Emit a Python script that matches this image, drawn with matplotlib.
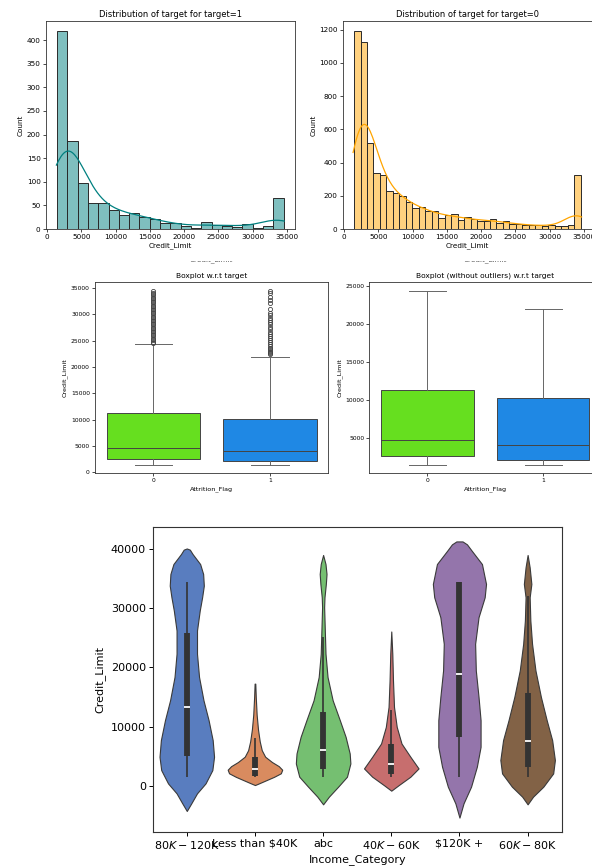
import matplotlib
matplotlib.use("Agg")
import matplotlib.pyplot as plt
import numpy as np
import seaborn as sns
from matplotlib.transforms import Bbox, TransformedBbox

W, H = 592, 866

# Credit_Limit histograms (counts per bin), one per attrition target
cl_min, cl_max = 1438.3, 34516.0
counts_t1 = [420, 186, 97, 54, 55, 41, 30, 34, 26, 21, 12, 13, 7, 2, 14, 9, 6, 5, 10, 2, 6, 66]
counts_t0 = [1194, 1128, 520, 340, 324, 228, 214, 196, 164, 126, 132, 108, 106, 68, 84, 90,
             54, 70, 58, 50, 48, 62, 34, 46, 32, 28, 24, 24, 22, 16, 22, 20, 20, 22, 328]

# box statistics for Credit_Limit by Attrition_Flag
flags = ["0", "1"]
box_whislo = [1438, 1438]
box_q1 = [2550, 2100]
box_med = [4680, 4050]
box_q3 = [11270, 10150]
box_whishi = [24350, 21950]
fliers_0 = [24500, 24800, 25100, 25400, 25700, 26000, 26300, 26600, 26900, 27200, 27500,
            27800, 28100, 28400, 28700, 29000, 29300, 29600, 29900, 30200, 30500, 30800,
            31100, 31400, 31700, 32000, 32300, 32600, 32900, 33200, 33500, 33800, 34100, 34516]
fliers_1 = [22500, 22700, 22900, 23100, 23400, 23700, 24000, 24300, 24700, 25100, 25500,
            25900, 26300, 26700, 27300, 27700, 28200, 28600, 29000, 29400, 29800, 30200,
            31000, 32200, 32800, 33400, 34000, 34516]

# violin outlines (Credit_Limit value, half width) per income category
income_cats = ["$80K - $120K", "Less than $40K", "abc", "$40K - $60K", "$120K +", "$60K - $80K"]
vio_y = [
    [40100, 39900, 39160, 37470, 35790, 33820, 31850, 29600, 26240, 22300, 18370, 14440,
     11070, 7700, 4890, 2640, 390, -1290, -2980, -4270],
    [17250, 15000, 12000, 9500, 7500, 6000, 4900, 4000, 3300, 2700, 2100, 1500, 900, 400, 110],
    [39000, 37470, 35790, 34100, 31850, 30170, 26240, 22300, 18370, 14440, 11070, 8260,
     5450, 3760, 1520, -170, -1850, -3150],
    [26070, 22300, 17810, 13310, 9940, 7130, 4890, 2920, 1520, 110, -840],
    [41290, 40800, 39720, 37470, 34100, 31850, 28480, 23990, 19490, 15000, 11070, 6570,
     3200, -170, -2980, -5390],
    [39000, 36910, 34100, 31850, 27920, 23990, 19490, 15000, 11070, 7700, 4330, 2080,
     -170, -1850, -3150],
]
vio_hw = [
    [0.0, 0.045, 0.085, 0.196, 0.24, 0.25, 0.225, 0.19, 0.15, 0.15, 0.18, 0.245, 0.32, 0.38,
     0.40, 0.375, 0.275, 0.15, 0.066, 0.0],
    [0.005, 0.012, 0.025, 0.045, 0.07, 0.10, 0.15, 0.25, 0.35, 0.40, 0.38, 0.28, 0.16, 0.06, 0.0],
    [0.0, 0.035, 0.05, 0.04, 0.02, 0.015, 0.025, 0.035, 0.065, 0.14, 0.245, 0.33, 0.39, 0.40,
     0.35, 0.22, 0.085, 0.0],
    [0.0, 0.015, 0.025, 0.04, 0.08, 0.15, 0.28, 0.40, 0.28, 0.11, 0.0],
    [0.045, 0.11, 0.18, 0.33, 0.39, 0.37, 0.28, 0.23, 0.24, 0.28, 0.31, 0.31, 0.255, 0.17,
     0.06, 0.0],
    [0.0, 0.03, 0.055, 0.03, 0.04, 0.065, 0.115, 0.195, 0.28, 0.36, 0.40, 0.375, 0.23, 0.08, 0.0],
]
inc_whislo = [1438, 1438, 1438, 1438, 1438, 1438]
inc_q1 = [5060, 1700, 2750, 1910, 8260, 3090]
inc_med = [13310, 2760, 6010, 3650, 18820, 7580]
inc_q3 = [25840, 4900, 12470, 7020, 34516, 15670]
inc_whishi = [34516, 8000, 25110, 12750, 34516, 32140]


def rect(l, t, r, b):
    return [l / W, 1 - b / H, (r - l) / W, (b - t) / H]


def small_ticks(ax, size):
    ax.tick_params(labelsize=size, length=2.2, width=0.5, pad=1.5)
    for s in ax.spines.values():
        s.set_linewidth(0.6)
        s.set_color("#333333")


fig = plt.figure(figsize=(W / 100, H / 100), dpi=100)

# --- histograms ---
for counts, color, title, box in [
        (counts_t1, "teal", "Distribution of target for target=1", (45.7, 20.7, 295, 229)),
        (counts_t0, "orange", "Distribution of target for target=0", (342.7, 20.7, 592, 229))]:
    ax = fig.add_axes(rect(*box))
    edges = np.linspace(cl_min, cl_max, len(counts) + 1)
    centers = (edges[:-1] + edges[1:]) / 2
    values = np.repeat(centers, counts)
    sns.histplot(x=values, bins=edges, kde=True, color=color, ax=ax,
                 edgecolor="#2a2a2a", linewidth=0.7,
                 kde_kws={"cut": 0.35, "bw_adjust": 1.1}, line_kws={"linewidth": 0.9})
    ax.set_xlim(cl_min - 0.05 * (cl_max - cl_min), cl_max + 0.05 * (cl_max - cl_min))
    ax.set_xticks(range(0, 35001, 5000))
    ax.set_title(title, fontsize=6, pad=3)
    ax.set_xlabel("Credit_Limit", fontsize=5.2, labelpad=1.5)
    ax.set_ylabel("Count", fontsize=5.2, labelpad=2)
    small_ticks(ax, 5.2)

# cut-off axis labels between the rows
clip = TransformedBbox(Bbox.from_extents(0, 1 - 266 / H, 1, 1 - 260.5 / H), fig.transFigure)
for xc in [211, 485]:
    t = fig.text(xc / W, 1 - 260 / H, "Credit_Limit", fontsize=5.2, ha="center", va="center",
                 color="#555555")
    t.set_clip_box(clip)
    t.set_clip_on(True)

# --- boxplots ---
box_colors = ["#66df1f", "#1f88e4"]
for title, box, with_fliers in [
        ("Boxplot w.r.t target", (95, 282, 328.3, 473.3), True),
        ("Boxplot (without outliers) w.r.t target", (369.3, 282, 601, 473.3), False)]:
    ax = fig.add_axes(rect(*box))
    stats = []
    for i, fl in enumerate([fliers_0, fliers_1]):
        stats.append(dict(whislo=box_whislo[i], q1=box_q1[i], med=box_med[i], q3=box_q3[i],
                          whishi=box_whishi[i], fliers=fl if with_fliers else []))
    bp = ax.bxp(stats, positions=[0, 1], widths=0.8, capwidths=0.32, patch_artist=True,
                showfliers=with_fliers,
                boxprops=dict(edgecolor="#444444", linewidth=0.7),
                whiskerprops=dict(color="#666666", linewidth=0.7),
                capprops=dict(color="#666666", linewidth=0.7),
                medianprops=dict(color="#444444", linewidth=0.7),
                flierprops=dict(marker="o", markerfacecolor="none", markeredgecolor="#444444",
                                markersize=3, markeredgewidth=0.6))
    for patch, c in zip(bp["boxes"], box_colors):
        patch.set_facecolor(c)
    ax.set_xlim(-0.5, 1.5)
    ax.set_xticks([0, 1])
    ax.set_xticklabels(flags)
    ax.set_title(title, fontsize=5.4, pad=3)
    ax.set_xlabel("Attrition_Flag", fontsize=4.6, labelpad=2)
    ax.set_ylabel("Credit_Limit", fontsize=4.6, labelpad=2)
    small_ticks(ax, 4.3)

# --- violins by income category ---
ax = fig.add_axes(rect(152.7, 526.7, 561.7, 831.7))
palette = [sns.desaturate(c, 0.75) for c in sns.color_palette("muted", len(income_cats))]
for i, cat in enumerate(income_cats):
    y = np.array(vio_y[i])
    hw = np.array(vio_hw[i])
    ax.fill_betweenx(y, i - hw, i + hw, facecolor=palette[i], edgecolor="#3a3a3a",
                     linewidth=0.8, zorder=2)
    ax.plot([i, i], [inc_whislo[i], inc_whishi[i]], color="#333333", lw=1.2,
            solid_capstyle="butt", zorder=3)
    ax.plot([i, i], [inc_q1[i], inc_q3[i]], color="#333333", lw=4.2,
            solid_capstyle="butt", zorder=3)
    ax.plot([i], [inc_med[i]], marker="_", color="white", markersize=4,
            markeredgewidth=1.3, zorder=4)
ax.set_xlim(-0.5, 5.5)
ax.set_ylim(-7775, 43780)
ax.set_xticks(range(len(income_cats)))
ax.set_xticklabels(income_cats)
ax.set_yticks(range(0, 40001, 10000))
ax.set_xlabel("Income_Category", fontsize=8, labelpad=2.5)
ax.set_ylabel("Credit_Limit", fontsize=8)
ax.tick_params(labelsize=8, length=3, width=0.7, pad=2)
for s in ax.spines.values():
    s.set_linewidth(0.8)
    s.set_color("#333333")

fig.savefig("out.png", dpi=100)
